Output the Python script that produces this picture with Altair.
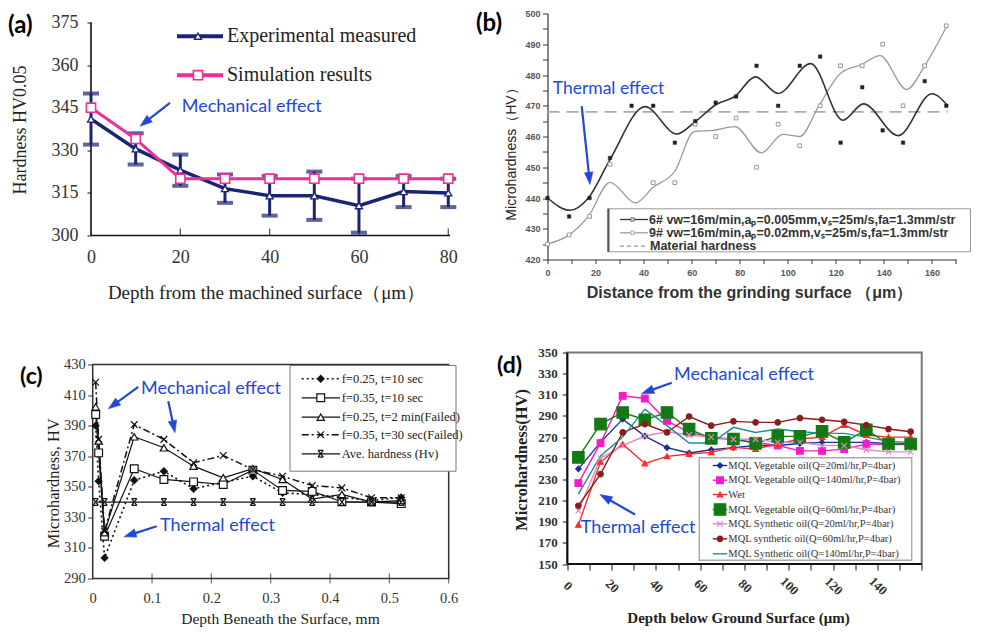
import math
import altair as alt
import pandas as pd

NAVY = "#1b2472"
PINK = "#ef2f98"
BLUE = "#2348d8"
SERIF = "Liberation Serif"
SANS = "Liberation Sans"
ANNF = "Lato"

# ---------------- panel (a) data ----------------
a_depth = [0, 10, 20, 30, 40, 50, 60, 70, 80]
a_measured = [341, 330.5, 323, 316.5, 314, 314, 310.5, 315.5, 315]
a_error = [9, 5.5, 5.5, 5, 7, 8.5, 9.5, 5.5, 5]
a_simulated = [345, 334, 320, 320, 320, 320, 320, 320, 320]
a_xticks = [0, 20, 40, 60, 80]
a_yticks = [300, 315, 330, 345, 360, 375]

# ---------------- panel (b) data ----------------
b6_x = [0, 9, 17.5, 26, 35, 44, 53, 61.5, 70, 78.5, 87, 96, 105, 113.5, 122, 131, 139.5, 148, 157, 166]
b6_y = [440, 434, 440, 453, 470, 470, 458, 465, 471, 473, 483, 470, 483, 486, 458, 476, 462, 458, 478, 470]
b9_x = [0, 9, 17.5, 26, 44, 53, 61.5, 70, 78.5, 87, 96, 105, 113.5, 122, 131, 139.5, 148, 157, 166]
b9_y = [425, 428, 434, 451, 445, 445, 464, 460, 466, 450, 464, 457, 470, 483, 483, 490, 470, 483, 496]
b6_curve_x = [0, 9.4, 17, 26, 40.6, 53.8, 61, 70.4, 78, 86.5, 96, 109.5, 123, 131.5, 146, 160, 166.6]
b6_curve_y = [440, 436, 440, 452.5, 469.7, 460.8, 464.5, 470.5, 473, 479.4, 474, 483.7, 465.3, 470.6, 460.3, 473.9, 470]
b9_curve_x = [0, 9, 17, 26, 36.7, 44, 53, 61, 69, 78, 89, 98, 105, 113, 122, 131, 138.4, 149.5, 157, 166]
b9_curve_y = [425, 428, 434, 445.1, 438.4, 443.5, 448.7, 461.6, 462, 463.2, 454.7, 460.7, 460, 470, 480.6, 483.5, 486.3, 475.3, 483, 495.6]
b_material = 468
b_xticks = list(range(0, 171, 10))
b_yticks = list(range(420, 501, 5))

# ---------------- panel (c) data ----------------
c_depth = [0.005, 0.01, 0.02, 0.07, 0.12, 0.17, 0.22, 0.27, 0.32, 0.37, 0.42, 0.47, 0.52]
c_f25_t10 = [390, 353.7, 303.5, 354.3, 360.2, 348.7, 353, 356.9, 346, 345, 343, 341, 343]
c_f35_t10 = [397.3, 372.2, 317.7, 361.8, 354.8, 353.2, 351.5, 360.9, 347.6, 347, 340.2, 340, 339]
c_f25_t2m = [402.3, 380, 320, 382.7, 375.5, 363.5, 355.9, 361.8, 354.8, 342, 345, 340, 341]
c_f35_t30 = [418.4, 381, 321, 390.7, 381, 365.7, 370.5, 361.3, 356.9, 350.8, 349.3, 342.8, 342.8]
c_ave_depth = [0.005, 0.02, 0.07, 0.12, 0.17, 0.22, 0.27, 0.32, 0.37, 0.42, 0.47, 0.52]
c_ave = [340] * 12
c_labels = ["f=0.25, t=10 sec", "f=0.35, t=10 sec", "f=0.25, t=2 min(Failed)",
            "f=0.35, t=30 sec(Failed)", "Ave. hardness (Hv)"]
c_xticks = [0, 0.1, 0.2, 0.3, 0.4, 0.5, 0.6]
c_yticks = [290, 310, 330, 350, 370, 390, 410, 430]

# ---------------- panel (d) data ----------------
d_depth = [5, 15, 25, 35, 45, 55, 65, 75, 85, 95, 105, 115, 125, 135, 145, 155]
d_series = [
    ("MQL Vegetable oil(Q=20ml/hr,P=4bar)",
     [240, 265, 287, 271, 260, 255, 258, 260, 262, 262, 264, 265, 265, 265, 264, 264]),
    ("MQL Vegetable oil(Q=140ml/hr,P=4bar)",
     [226.5, 264.3, 309, 306.5, 285.4, 274.4, 270, 268, 265, 262, 257, 257, 258.6, 263.3, 263, 263]),
    ("Wet",
     [187, 246.6, 263.3, 245.1, 251.8, 254, 255.6, 260.3, 258.8, 263.5, 268.2, 270, 281.3, 272, 270, 270]),
    ("MQL Vegetable oil(Q=60ml/hr,P=4bar)",
     [250.8, 282.3, 293.3, 286.4, 293.3, 277.6, 268.8, 268.2, 264.1, 270.7, 270.7, 275.4, 265, 277, 263.5, 263.5]),
    ("MQL Synthetic oil(Q=20ml/hr,P=4bar)",
     [200.4, 250, 262, 271, 275, 272, 270, 268, 268, 265, 265, 262, 262, 258, 256, 256]),
    ("MQL synthetic oil(Q=60ml/hr,P=4bar)",
     [205.1, 235, 274.4, 282.3, 274.4, 289.5, 280.8, 284.9, 283.9, 283.9, 288, 286.4, 284.5, 281.3, 277.6, 275.1]),
    ("MQL Synthetic oil(Q=140ml/hr,P=4bar)",
     [216.1, 252.2, 270, 296.4, 280.8, 264.4, 264.4, 279.2, 274.4, 277.6, 275.1, 273.8, 273.5, 270, 266, 265]),
]
d_xticks = list(range(0, 161, 10))
d_yticks = list(range(150, 351, 20))

# every panel occupies the same cell; plot frames sit inside it
CELL_W, CELL_H = 409, 246

ONE = pd.DataFrame({"k": [0]})
HEAD = "M0,0L0.7,2L-0.7,2Z"
XPATH = "M-1,-1L1,1M-1,1L1,-1"
ASTER = "M-0.8,-1L0.8,1M0.8,-1L-0.8,1M-0.8,-1L0.8,-1M-0.8,1L0.8,1"


def ptext(x, y, s, size, font=ANNF, color=BLUE, weight="normal", align="left", baseline="middle"):
    return alt.Chart(ONE).mark_text(fontSize=size, font=font, color=color, fontWeight=weight,
                                    align=align, baseline=baseline).encode(
        x=alt.value(x), y=alt.value(y), text=alt.value(s))


def pline(x1, y1, x2, y2, color, width, dash=None):
    kw = dict(color=color, strokeWidth=width)
    if dash:
        kw["strokeDash"] = dash
    return alt.Chart(ONE).mark_rule(**kw).encode(
        x=alt.value(x1), y=alt.value(y1), x2=alt.value(x2), y2=alt.value(y2))


def pmark(x, y, shape, size, fill, stroke, sw=1.0, angle=0):
    kw = dict(shape=shape, size=size, strokeWidth=sw, opacity=1, angle=angle, filled=True,
              fill=fill, stroke=stroke)
    return alt.Chart(ONE).mark_point(**kw).encode(x=alt.value(x), y=alt.value(y))


def prect(x1, y1, x2, y2, stroke, sw, fill="white"):
    return alt.Chart(ONE).mark_rect(fill=fill, stroke=stroke, strokeWidth=sw).encode(
        x=alt.value(x1), y=alt.value(y1), x2=alt.value(x2), y2=alt.value(y2))


def arrow(x1, y1, x2, y2):
    dx, dy = x2 - x1, y2 - y1
    L = math.hypot(dx, dy)
    ang = math.degrees(math.atan2(dx, -dy)) % 360
    ex, ey = x2 - dx / L * 7, y2 - dy / L * 7
    return alt.layer(
        pline(x1, y1, ex, ey, BLUE, 2.2),
        alt.Chart(ONE).mark_point(shape=HEAD, size=150, fill=BLUE, stroke=BLUE, strokeWidth=0.5,
                                  filled=True, opacity=1, angle=ang).encode(
            x=alt.value(x2), y=alt.value(y2)))


def sc(dom):
    return alt.Scale(domain=dom, nice=False, zero=False)


def make_enc(xs, ys, axx, axy):
    def enc(fx="x", fy="y"):
        return dict(x=alt.X(fx + ":Q", scale=xs, axis=axx), y=alt.Y(fy + ":Q", scale=ys, axis=axy))
    return enc


# ======================= PANEL A =======================
a_xs = sc([0, 91.58])
a_ys = sc([291.55, 378.17])
dfa = pd.DataFrame({"x": a_depth, "m": a_measured,
                    "lo": [m - e for m, e in zip(a_measured, a_error)],
                    "hi": [m + e for m, e in zip(a_measured, a_error)],
                    "s": a_simulated})
ax_a_x = alt.Axis(values=a_xticks, title="Depth from the machined surface（μm）", titleFont=SERIF,
                  titleFontSize=19, titleFontWeight="normal", titleColor="#222", titleX=175, titleY=57,
                  titleBaseline="middle", titleAlign="center", labelFont=SERIF, labelFontSize=18,
                  labelColor="#333", labelBaseline="middle", labelPadding=22, labelFlush=False,
                  ticks=False, domain=False, grid=False, offset=-24)
ax_a_y = alt.Axis(values=a_yticks, title="Hardness HV0.05", titleFont=SERIF, titleFontSize=18,
                  titleFontWeight="normal", titleColor="#222", titleX=-71, titleY=116,
                  titleBaseline="middle", titleAlign="center", labelFont=SERIF, labelFontSize=18,
                  labelColor="#333", labelPadding=9, tickSize=4, tickColor="#111", domain=False,
                  grid=False)
ea = make_enc(a_xs, a_ys, ax_a_x, ax_a_y)

ba = alt.Chart(dfa)
panel_a = alt.layer(
    alt.Chart(pd.DataFrame({"x": [0], "y": [a_yticks[0]], "y1": [a_yticks[-1]]})).mark_rule(
        color="#111", strokeWidth=1.6).encode(**ea(), y2="y1:Q"),
    alt.Chart(pd.DataFrame({"x": [0], "x1": [80.4], "y": [a_yticks[0]]})).mark_rule(
        color="#111", strokeWidth=1.6).encode(**ea(), x2="x1:Q"),
    alt.Chart(pd.DataFrame({"x": a_xticks[1:], "y": [a_yticks[0]] * 4})).mark_tick(
        orient="vertical", size=7, thickness=1.3, color="#111", yOffset=-3.5).encode(**ea()),
    ba.mark_rule(color=NAVY, strokeWidth=3).encode(**ea("x", "lo"), y2="hi:Q"),
    ba.mark_tick(orient="horizontal", color=NAVY, size=16, thickness=4).encode(**ea("x", "lo")),
    ba.mark_tick(orient="horizontal", color=NAVY, size=16, thickness=4).encode(**ea("x", "hi")),
    ba.mark_line(color=NAVY, strokeWidth=3.5).encode(**ea("x", "m")),
    ba.mark_line(color=PINK, strokeWidth=3).encode(**ea("x", "s")),
    ba.mark_point(shape="triangle-up", size=50, fill="white", stroke=NAVY, strokeWidth=1.3,
                  opacity=1, filled=True).encode(**ea("x", "m")),
    ba.mark_point(shape="square", size=85, fill="white", stroke=PINK, strokeWidth=1.6,
                  opacity=1, filled=True).encode(**ea("x", "s")),
    # legend
    pline(86, 22.7, 132, 22.7, NAVY, 4),
    pmark(107, 22.7, "triangle-up", 50, "white", NAVY, 1.3),
    ptext(136, 22.7, "Experimental measured", 20, SERIF, "#222"),
    pline(86, 61.7, 132, 61.7, PINK, 4),
    pmark(107, 61.7, "square", 85, "white", PINK, 1.6),
    ptext(136, 61.7, "Simulation results", 20, SERIF, "#222"),
    # annotations
    ptext(90.7, 93, "Mechanical effect", 18),
    arrow(79, 89.3, 49, 112.7),
    ptext(-83, 0, "(a)", 24, ANNF, "black", "bold", "left", "top"),
).properties(width=CELL_W, height=CELL_H)

# ======================= PANEL B =======================
b_xs = sc([0, 170.24])
b_ys = sc([420, 500])
ax_b_x = alt.Axis(values=b_xticks, labelExpr="datum.value % 20 == 0 && datum.value <= 160 ? datum.label : ''",
                  title="Distance from the grinding surface （μm）", titleFont=SANS, titleFontSize=16,
                  titleFontWeight="bold", titleColor="#333", titleX=201.5, titleY=33.3,
                  titleBaseline="middle", titleAlign="center",
                  labelFont=SANS, labelFontSize=9, labelFontWeight="bold", labelColor="#555",
                  labelBaseline="middle", labelPadding=9.3, labelFlush=False, labelOverlap=False,
                  tickSize=4, tickColor="#333", domainColor="#333", domainWidth=1.2, grid=False)
ax_b_y = alt.Axis(values=b_yticks, labelExpr="datum.value % 10 == 0 ? datum.label : ''",
                  title="Microhardness（HV）", titleFont=SANS, titleFontSize=14, titleFontWeight="normal",
                  titleColor="#222", titleX=-35.8, titleY=137, titleBaseline="middle", titleAlign="center",
                  labelFont=SANS, labelFontSize=9, labelFontWeight="bold", labelColor="#555",
                  labelPadding=2.5, labelOverlap=False, tickSize=5, tickColor="#333",
                  domainColor="#333", domainWidth=1.2, grid=False)
eb = make_enc(b_xs, b_ys, ax_b_x, ax_b_y)

df_b6 = pd.DataFrame({"x": b6_x, "y": b6_y})
df_b9 = pd.DataFrame({"x": b9_x, "y": b9_y})
df_c6 = pd.DataFrame({"x": b6_curve_x, "y": b6_curve_y})
df_c9 = pd.DataFrame({"x": b9_curve_x, "y": b9_curve_y})
df_mat = pd.DataFrame({"x": [0], "x2": [166.6], "y": [b_material]})

b_line1 = "6# vw=16m/min,aₚ=0.005mm,vₛ=25m/s,fa=1.3mm/str"
b_line2 = "9# vw=16m/min,aₚ=0.02mm,vₛ=25m/s,fa=1.3mm/str"

panel_b = alt.layer(
    alt.Chart(df_mat).mark_rule(color="#aaa", strokeWidth=1.6, strokeDash=[12, 7]).encode(
        **eb(), x2="x2:Q"),
    alt.Chart(df_c9).mark_line(color="#9a9a9a", strokeWidth=1.3, interpolate="monotone").encode(**eb()),
    alt.Chart(df_c6).mark_line(color="#333", strokeWidth=1.6, interpolate="monotone").encode(**eb()),
    alt.Chart(df_b9).mark_point(shape="square", size=14, fill="white", stroke="#999", strokeWidth=1,
                                opacity=1, filled=True).encode(**eb()),
    alt.Chart(df_b6).mark_point(shape="square", size=12, fill="#222", stroke="#222", strokeWidth=0.5,
                                opacity=1, filled=True).encode(**eb()),
    # legend box
    prect(60.2, 195.3, 423, 238.3, "#999", 1),
    pline(61, 195.3, 61, 238.3, "#555", 2),
    pline(72.5, 206, 100.5, 206, "#333", 1.3),
    pmark(85, 206, "square", 12, "#ddd", "#555", 0.8),
    ptext(101.5, 206, b_line1, 12.5, SANS, "#333", "bold"),
    pline(72.5, 219.3, 100.5, 219.3, "#999", 1.2),
    pmark(85, 219.3, "square", 12, "white", "#999", 0.8),
    ptext(101.5, 219.3, b_line2, 12.5, SANS, "#333", "bold"),
    pline(72.5, 232.7, 98.5, 232.7, "#999", 1.2, [4, 3]),
    ptext(102.5, 232.7, "Material hardness", 12.5, SANS, "#333", "bold"),
    # annotations
    ptext(5.2, 75, "Thermal effect", 17.5),
    arrow(34.2, 92.7, 42.5, 171),
    ptext(-71.5, -2, "(b)", 24, ANNF, "black", "bold", "left", "top"),
).properties(width=CELL_W, height=CELL_H)

# ======================= PANEL C =======================
c_xs = sc([-0.00287, 0.6865])
c_ys = sc([276.92, 437.85])
ax_c_x = alt.Axis(values=c_xticks, format="~g", title="Depth Beneath the Surface, mm", titleFont=SERIF,
                  titleFontSize=15.5, titleFontWeight="normal", titleColor="#222", titleX=189, titleY=40,
                  titleBaseline="middle", titleAlign="center", labelFont=SERIF, labelFontSize=14.5,
                  labelColor="#333", labelBaseline="middle", labelPadding=20, labelFlush=False,
                  ticks=False, domain=False, grid=False, offset=-20)
ax_c_y = alt.Axis(values=c_yticks, title="Microhardness, HV", titleFont=SERIF, titleFontSize=16.5,
                  titleFontWeight="normal", titleColor="#222", titleX=-39.3, titleY=130.3,
                  titleBaseline="middle", titleAlign="center", labelFont=SERIF, labelFontSize=14.5,
                  labelColor="#333", labelPadding=2.5, tickSize=5, tickColor="#333", domain=False,
                  grid=False, offset=-1.7)
ec = make_enc(c_xs, c_ys, ax_c_x, ax_c_y)

c_styles = [
    dict(dash=[2, 3], width=1.6, shape="diamond", size=45, fill="#111", stroke="#111"),
    dict(dash=None, width=1.2, shape="square", size=60, fill="white", stroke="#111"),
    dict(dash=None, width=1.2, shape="triangle-up", size=55, fill="white", stroke="#111"),
    dict(dash=[7, 3, 2, 3], width=1.5, shape=XPATH, size=45, fill="none", stroke="#111"),
    dict(dash=None, width=1.3, shape=ASTER, size=45, fill="none", stroke="#111"),
]
c_data = [(c_depth, c_f25_t10), (c_depth, c_f35_t10), (c_depth, c_f25_t2m), (c_depth, c_f35_t30),
          (c_ave_depth, c_ave)]

c_layers = [
    alt.Chart(pd.DataFrame({"x": [0], "x2": [0.6], "y": [290], "y2": [430]})).mark_rect(
        fillOpacity=0, stroke="#333", strokeWidth=1.5).encode(**ec(), x2="x2:Q", y2="y2:Q"),
    alt.Chart(pd.DataFrame({"x": c_xticks[1:], "y": [290] * 6})).mark_tick(
        orient="vertical", size=10, thickness=1.2, color="#333").encode(**ec()),
]
for (xs_, ys_), st in zip(c_data, c_styles):
    dfc = pd.DataFrame({"x": xs_, "y": ys_})
    lkw = dict(color="#111", strokeWidth=st["width"])
    if st["dash"]:
        lkw["strokeDash"] = st["dash"]
    c_layers.append(alt.Chart(dfc).mark_line(**lkw).encode(**ec()))
for (xs_, ys_), st in zip(c_data, c_styles):
    dfc = pd.DataFrame({"x": xs_, "y": ys_})
    c_layers.append(alt.Chart(dfc).mark_point(shape=st["shape"], size=st["size"], fill=st["fill"],
                                              stroke=st["stroke"], strokeWidth=1.2, opacity=1,
                                              filled=True).encode(**ec()))
# legend
c_layers.append(prect(199, 13, 365, 118.7, "#777", 1))
for yy, lab, st in zip([26.3, 45.3, 64.7, 82.3, 101.3], c_labels, c_styles):
    c_layers.append(pline(210.7, yy, 249, yy, "#111", st["width"], st["dash"]))
    c_layers.append(pmark(229.7, yy, st["shape"], st["size"], st["fill"], st["stroke"], 1.2))
    c_layers.append(ptext(250.7, yy, lab, 12.5, SERIF, "#222"))
c_layers += [
    ptext(50, 36.5, "Mechanical effect", 18),
    arrow(47.3, 34.3, 17.3, 56.3),
    arrow(77.3, 48.7, 84, 80.3),
    ptext(69, 173, "Thermal effect", 18),
    arrow(65.7, 173.7, 33, 184.3),
    ptext(-71, 13, "(c)", 23, ANNF, "black", "bold", "left", "top"),
]
panel_c = alt.layer(*c_layers).properties(width=CELL_W, height=CELL_H)

# ======================= PANEL D =======================
d_xs = sc([-8.94, 175.7])
d_ys = sc([117.38, 350])
ax_d_x = alt.Axis(values=d_xticks, labelExpr="datum.value % 20 == 0 && datum.value < 160 ? datum.label : ''",
                  title="Depth below Ground Surface (μm)", titleFont=SERIF, titleFontSize=15,
                  titleFontWeight="bold", titleColor="#222", titleX=190.5, titleY=53,
                  titleBaseline="middle", titleAlign="center", labelFont=SERIF, labelFontSize=13,
                  labelFontWeight="bold", labelColor="#333", labelAngle=45, labelAlign="center",
                  labelBaseline="middle", labelPadding=15.7, labelFlush=False, labelOverlap=False,
                  tickSize=6, tickColor="#111", domain=False, grid=False, offset=-34.5)
ax_d_y = alt.Axis(values=d_yticks, title="Microhardness(HV)", titleFont=SERIF, titleFontSize=16.5,
                  titleFontWeight="bold", titleColor="#222", titleX=-45.8, titleY=107,
                  titleBaseline="middle", titleAlign="center", labelFont=SERIF, labelFontSize=13,
                  labelFontWeight="bold", labelColor="#333", labelPadding=5, tickSize=5,
                  tickColor="#111", domain=False, grid=False, offset=-19.8)
ed = make_enc(d_xs, d_ys, ax_d_x, ax_d_y)

d_styles = [
    dict(color="#1f2f8f", shape="diamond", size=30, fill="#1f2f8f", stroke="#1f2f8f"),
    dict(color="#f21ccb", shape="square", size=45, fill="#f21ccb", stroke="#f21ccb"),
    dict(color="#ff2a2a", shape="triangle-up", size=30, fill="#ff2a2a", stroke="#ff2a2a"),
    dict(color="#137a13", shape="square", size=130, fill="#137a13", stroke="#137a13"),
    dict(color="#dc8cc0", shape=XPATH, size=30, fill="none", stroke="#dc8cc0"),
    dict(color="#8b1c1c", shape="circle", size=30, fill="#8b1c1c", stroke="#8b1c1c"),
    dict(color="#1e8c96", shape=None, size=0, fill=None, stroke=None),
]
d_layers = [
    alt.Chart(pd.DataFrame({"x": [0], "x2": [160], "y": [150], "y2": [350]})).mark_rect(
        fillOpacity=0, stroke="#777", strokeWidth=2).encode(**ed(), x2="x2:Q", y2="y2:Q"),
    alt.Chart(pd.DataFrame({"x": [0], "y": [150], "y2": [350]})).mark_rule(
        color="#111", strokeWidth=2).encode(**ed(), y2="y2:Q"),
    alt.Chart(pd.DataFrame({"x": [0], "x2": [160], "y": [150]})).mark_rule(
        color="#111", strokeWidth=2).encode(**ed(), x2="x2:Q"),
]
for (lab, vals), st in zip(d_series, d_styles):
    dfd = pd.DataFrame({"x": d_depth, "y": vals})
    d_layers.append(alt.Chart(dfd).mark_line(color=st["color"], strokeWidth=1.4).encode(**ed()))
for (lab, vals), st in zip(d_series, d_styles):
    if st["shape"] is None:
        continue
    dfd = pd.DataFrame({"x": d_depth, "y": vals})
    d_layers.append(alt.Chart(dfd).mark_point(shape=st["shape"], size=st["size"], fill=st["fill"],
                                              stroke=st["stroke"], strokeWidth=1.2, opacity=1,
                                              filled=True).encode(**ed()))
d_layers.append(prect(151.8, 105.3, 364.2, 207.7, "#aaa", 1.5))
for (lab, vals), st, yy in zip(d_series, d_styles, [113, 127.7, 142, 157, 171.3, 186.3, 201.3]):
    d_layers.append(pline(165.2, yy, 179.8, yy, st["color"], 1.4))
    if st["shape"] is not None:
        d_layers.append(pmark(172.5, yy, st["shape"], st["size"], st["fill"], st["stroke"], 1.2))
    d_layers.append(ptext(180.8, yy, lab, 10.5, SERIF, "#333"))
d_layers += [
    ptext(126.5, 22.5, "Mechanical effect", 18),
    arrow(124.2, 30.3, 94.2, 41),
    ptext(33.2, 175, "Thermal effect", 18),
    arrow(87.5, 162, 52.5, 142),
    ptext(-50.5, 2, "(d)", 23, ANNF, "black", "bold", "left", "top"),
]
panel_d = alt.layer(*d_layers).properties(width=CELL_W, height=CELL_H)

chart = alt.concat(panel_a, panel_b, panel_c, panel_d, columns=2,
                   spacing={"row": 93, "column": 47.5}, bounds="flush").properties(
    padding={"top": 1.5, "left": 0, "right": 0, "bottom": 0}).configure_view(stroke=None)

chart.save("out.html", embed_options={"renderer": "svg", "actions": False})
